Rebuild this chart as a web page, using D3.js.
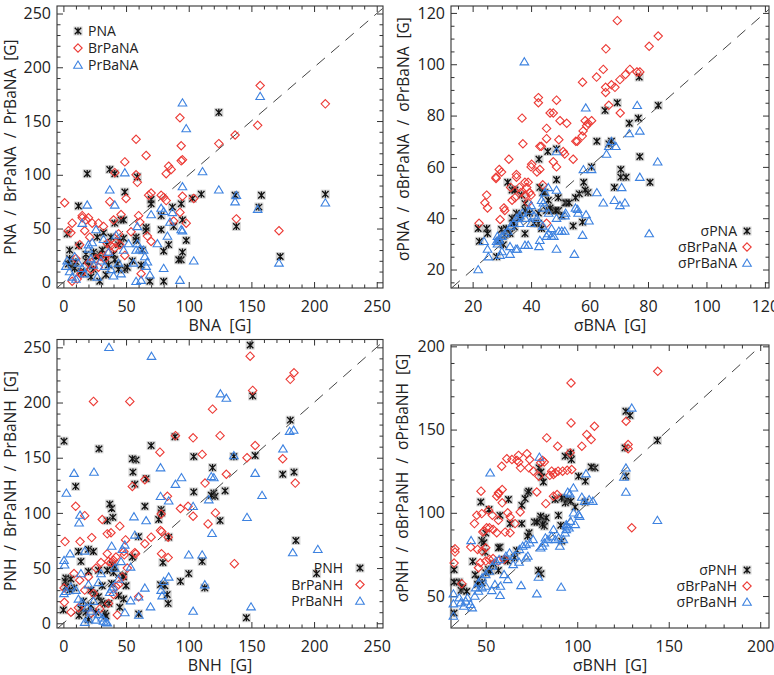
<!DOCTYPE html>
<html><head><meta charset="utf-8">
<script src="https://cdn.jsdelivr.net/npm/d3@7"></script>
<style>
body{margin:0;background:#fff}
svg text{font-family:"Open Sans",sans-serif;fill:#222}
</style></head><body>
<svg id="c" width="774" height="675"></svg>
<script>
// ---------- DATA ----------
const ticksP1 = [0, 50, 100, 150, 200, 250];
const ticksP2 = [20, 40, 60, 80, 100, 120];
const ticksP3 = [0, 50, 100, 150, 200, 250];
const ticksP4 = [50, 100, 150, 200];

const legendP1 = ["PNA", "BrPaNA", "PrBaNA"];
const legendP2 = ["σPNA", "σBrPaNA", "σPrBaNA"];
const legendP3 = ["PNH", "BrPaNH", "PrBaNH"];
const legendP4 = ["σPNH", "σBrPaNH", "σPrBaNH"];

// Panel 1: BNA vs PNA / BrPaNA / PrBaNA
const pna = [[124,158],[37,105],[41,101],[19,101],[59,98],[49,84],[12,71],[70,77],[70,73],[110,82],[137,81],[158,81],[209,82],[103,78],[94,73],[87,70],[78,62],[78,49],[88,52],[138,52],[95,58],[98,39],[80,29],[84,35],[95,28],[94,21],[92,21],[80,1],[69,1],[66,51],[66,48],[58,42],[58,39],[46,58],[48,58],[41,55],[48,41],[44,35],[35,35],[32,46],[27,42],[3,45],[5,30],[12,34],[29,1],[34,7],[43,17],[44,12],[49,12],[51,14],[41,21],[173,24],[156,70],[5,22],[7,15],[10,19],[18,20],[21,15],[24,12],[16,8],[22,5],[14,10],[29,26],[34,22],[36,16],[18,26],[9,13],[4,17],[26,24],[40,26],[45,38],[63,30],[62,16],[55,20],[31,30],[38,42],[24,28]];
const brpana = [[157,183],[209,166],[155,146],[137,137],[124,129],[93,153],[94,127],[95,114],[94,113],[58,133],[66,118],[49,112],[41,102],[84,108],[82,101],[86,105],[58,100],[59,93],[50,78],[37,75],[70,83],[68,81],[78,81],[80,79],[82,76],[95,80],[104,78],[98,55],[88,57],[93,65],[138,59],[172,48],[1,74],[4,48],[6,46],[7,55],[15,62],[15,60],[18,58],[20,60],[23,55],[28,55],[32,52],[17,48],[21,42],[46,63],[40,58],[44,45],[38,34],[41,32],[42,37],[61,56],[60,62],[67,43],[70,38],[62,8],[49,25],[7,1],[11,3],[13,35],[20,18],[26,22],[30,24],[33,22],[36,27],[14,8],[22,12],[45,35],[28,14],[10,22],[54,47],[35,36]];
const prbana = [[95,167],[98,143],[157,173],[111,103],[124,86],[137,75],[138,81],[155,68],[209,74],[172,18],[95,89],[95,48],[94,49],[49,102],[37,86],[41,72],[19,72],[59,52],[70,63],[78,69],[80,66],[87,65],[83,43],[85,56],[80,13],[104,20],[93,2],[58,1],[62,2],[69,7],[66,15],[67,19],[59,36],[61,31],[64,30],[26,49],[15,55],[2,15],[20,35],[20,31],[9,24],[5,10],[7,5],[10,3],[12,18],[15,13],[17,8],[22,22],[24,16],[27,5],[30,20],[33,15],[36,28],[38,12],[40,6],[44,18],[46,8],[48,30],[52,36],[56,18],[58,30],[65,24],[32,40],[23,37],[3,20],[42,44],[75,36]];

// Panel 2: sigma BNA
const spna = [[83.5,84],[77,95],[69.5,85],[65.3,82],[76.7,79],[73.6,77],[77.2,64],[80.7,54],[67.5,70],[66.6,69],[62.5,70],[70.7,59],[70.7,56],[72.5,56],[68.5,52],[60.7,60],[58,54],[59.5,50],[58.5,51],[56.5,49.5],[55.2,48],[54.4,37],[57.6,38.5],[51.6,46],[49.3,48],[48.7,55],[48.7,67],[45.7,66],[42.7,63],[43,52],[44.7,50],[45.9,47],[42.5,42],[42.5,38],[43.6,36],[37.9,34],[34.3,36.6],[32,54],[33.5,51],[34.5,51],[36.8,49],[37.9,45.7],[45.3,43],[47,43],[48.2,43],[49.4,43],[21.9,36],[22.3,31],[24.8,36],[25.1,34],[28.2,25],[30.5,29.7],[30.8,33.4],[29.9,35.6],[32.8,34],[33.5,40],[35,42],[36.5,41],[38,43],[39.5,42],[41,38],[44,50],[50.5,41],[52,46],[53,46],[48.5,43],[46.5,44],[31.5,36],[29,31],[34,38],[36,40]];
const sbrpana = [[69.5,117],[83.5,111],[80.4,107],[65.6,106],[64.7,98],[62.4,95],[57.6,93],[67.5,92],[68.7,91],[65.5,91],[65.5,89],[70.4,94],[72.3,96],[73.8,98],[76.2,97],[77.2,97],[66.6,84],[70.5,81],[60.7,78],[59,76],[58.5,78],[59.5,77],[57.8,74],[57.5,72],[55.3,70],[55.8,70],[54.4,63],[48.7,60],[47.6,62],[51,66],[51.5,65],[49.5,70.6],[46.5,81],[47.6,81],[48.7,86],[42.5,87],[42.5,85],[49.9,78],[52.2,77],[45.3,75],[36.9,79],[37.2,69],[45.3,71],[43,68],[43.5,68],[32.4,63],[29.1,59],[29.9,58],[28,56],[28,55.5],[40.2,61],[43,59],[37.9,54],[39,54],[38.5,52],[39.5,50],[38,49],[40,49],[35,56],[35,57],[36.5,50],[34.5,48],[33.5,47],[24.2,46],[25.1,44],[24.8,49],[22.2,38],[30.7,44],[31,43],[45.3,38],[29.4,39.5],[42,58],[36,52],[33,52],[40,60],[44,53],[39,46]];
const sprbana = [[37.7,101],[58.7,83],[76.3,84],[77.2,74],[73.6,73],[83.3,62],[77.2,56],[80.4,34],[71,52],[72.1,46],[70.4,45],[68.5,47],[64.7,46],[62.5,50],[60.7,59],[65.8,65],[69,68],[66.6,68],[67.5,70],[57.9,59],[55.2,44],[55.9,43.5],[56.1,42],[58.8,41.4],[59.8,39],[57.6,33.4],[54.8,26],[48.7,28],[48.7,40],[51.6,41],[51.8,42],[50.5,35],[49.5,35],[51.5,35],[45.9,34],[47,33],[47.8,33],[45.3,33],[42.7,29],[43,31.4],[37.9,29.5],[39,29.5],[32.8,29],[34.8,28],[35.3,28],[29.4,25.6],[30,27],[32.8,26],[25.4,25],[25.1,28],[21.9,20],[23.9,31],[28.2,31],[29,31.5],[28.5,33],[48.7,66],[48.7,51],[45.9,52],[44.7,50],[44.2,46],[43.6,47],[40,45],[39.5,43],[41,41],[42,40],[37,42],[36,41],[35,40],[34,38],[33,37],[32,35],[31,34],[30,33],[29,32],[28.5,30],[36,38],[38,40],[44,44],[46,42],[40,38],[47,36],[44,37]];

// Panel 3: BNH
const pnh = [[149,252],[151,206],[181,184],[184,137],[175,135],[153,152],[136,151],[129,120],[125,93],[119,141],[120,118],[121,115],[118,116],[104,151],[104,119],[89,169],[70,161],[66,131],[58,148],[55,149],[55.5,137],[57,126],[38.5,104],[37,108],[39.5,96],[35,93],[28.4,158],[0.5,165],[9.8,124],[12,65],[20,67],[24,65],[2,41],[1.5,38],[2,33],[6,40],[8.5,32],[0,12],[12.5,7],[20,3],[14,13],[16,20],[18,10],[22,16],[25,27],[28,24],[30,20],[26,10],[41,51],[47.5,43],[48,42],[39,53],[40,46],[38.5,36],[36.4,18],[33,17.5],[33,9],[34,6.6],[45,14.5],[50,34],[48,22],[60,8.5],[60,78.5],[55,60],[65,106],[76,94],[78,103],[78.3,100],[79.4,55],[77.5,35],[81,34],[82.8,26],[83.6,18],[93.4,38],[100,45],[110.7,56],[112.8,32],[146,5],[185.5,75],[202,45],[84,78],[14,56],[31,34],[35,48],[44,25],[20,47],[28,48],[22,30],[5,30]];
const brpanh = [[149,242],[184,227],[181,221],[151,211],[24,201],[53,201],[119,194],[125,170],[103.5,168],[89.4,170],[175,149],[153,161],[146.5,150],[77,155],[110.7,153],[130,135],[185,127],[113,127],[65,130],[55,124],[83,115],[93.4,104],[99.5,106],[103.5,97],[121.3,100],[115.4,90],[78,99],[77.5,84],[78.5,83],[83.6,78],[70,78],[65,72],[57.6,63],[57,64],[136.4,54],[83.6,59.5],[78.3,63],[1.3,74],[9.8,106],[17,97.5],[13.3,74],[22.6,77.6],[31,94],[35,81],[38,82],[45,88],[49.6,75.5],[48.3,65],[48.6,62],[8.5,45],[13,39],[20,42],[0.5,32],[0.8,19],[36,56],[38,55],[40,57],[42,60],[35,63],[60,24],[43,7.5],[36,18],[40,26],[42,33],[24,27],[17,30],[12,14],[6,10],[22,9],[29,13],[47,42],[51,50],[44,35],[30,55],[26,50]];
const prbanh = [[36.4,250],[70.3,242],[125.3,208],[130,204],[183.7,175],[180.5,174],[175.2,158],[136,152],[153,136],[158.5,116],[146.5,96],[24.4,137],[8.5,136],[2.4,118],[13.3,98],[12.5,91],[77.5,141],[89.4,126],[94.2,132],[77.5,115],[84,111],[103.5,106],[118,133],[120,132],[116,112],[118.6,81.5],[56.3,96.6],[66,93],[57,80],[38.5,70],[17,65.5],[5.3,63],[0.5,57],[1,53],[49,71],[47,67],[53.6,51],[110.7,62],[100,62],[183,64],[203,67],[112.8,35],[84,42],[80,38],[78,30],[78.8,25],[69.5,15],[60.2,7.5],[103.5,11],[149.7,15],[65,32],[53.6,20.5],[49,9.7],[38.5,31],[37,28],[39.5,33],[32,2],[34,1],[35,0.5],[31,5],[28,8],[17,1],[20,4],[26,3],[0.5,27],[2,29],[6,33],[10,30],[12,22],[15,19],[19,14],[22,11],[24,20],[14,45],[20,35],[28,37],[44,40],[41,50],[30,45],[60,24],[46,56]];

// Panel 4: sigma BNH
const spnh = [[143.8,143.5],[126.6,161],[128.8,158.5],[126.1,139],[126.6,122],[109.7,127],[107.6,127.5],[104.4,119],[100.7,122],[98.8,103.5],[104.3,106.5],[96.4,136],[96.8,132],[93.4,134],[92.8,108.5],[93.5,106],[91.5,109],[94.5,108],[96.5,107],[91,92.5],[91.5,83],[89.7,98.5],[87.9,108],[79.1,127],[80.2,124.5],[80.6,121.5],[81.5,118.5],[80,96],[82,95],[83,97],[82,92],[81,93],[80,98],[76.6,94.5],[78,94.4],[80.2,63.4],[78.8,65.4],[72.9,112],[73.5,113],[71.5,108.5],[69.7,104.5],[73.7,88],[72.9,86],[69.7,93.5],[63.3,93.5],[62.4,108],[57.8,98.5],[57.8,79.4],[57,79],[51.8,102],[50,87.8],[49.6,76.4],[47.8,83.4],[49,82],[47.3,106.5],[42.9,70.8],[44.2,62.8],[35.4,58.4],[36.5,53.4],[37.5,55],[32.7,65.8],[32.7,58.4],[32.7,39.8],[39.6,52.8],[50,64],[51.5,66],[52.5,65],[54.2,69.4],[56.9,65.4],[65.7,73],[66.9,77.4],[60,72],[62,71],[46,60],[48,58],[45.5,57]];
const sbrpanh = [[144,185],[96.6,178],[96.6,154],[109.4,152],[105.2,147],[126.7,155],[127.8,141],[127.8,138.5],[107.6,144],[102.5,140],[83.3,145],[89.3,140],[129.8,91],[96.1,136],[97,126],[94.5,125.5],[92,125],[89.5,125],[87,123],[85,122.5],[86,125],[88,124],[80,130],[82,130.5],[81,131.5],[72.5,135.5],[74,132],[73.5,127],[69,127],[76,125],[79,122],[67.9,134.5],[67,131.5],[68,130.5],[64.3,132],[61.5,132.5],[58.7,128],[47.4,113],[57,112],[59,114],[56,110],[57,111.5],[51.5,101.5],[45.1,98.5],[47.8,99.5],[43.8,93.5],[48.4,88.4],[49,89],[50.5,91],[52,91],[54,90],[56,88],[53.6,98.5],[56.9,95.5],[63.3,97.5],[60.6,88.4],[63.3,88],[66,93.5],[68.8,100.5],[45.5,78],[48,77],[50,79],[41.8,79.4],[33.2,78.4],[33.2,76.4],[32.7,69.8],[36.9,57.4],[47,70],[46,67],[50,71],[52,72],[54,72.5],[57,71],[60,72],[77.9,112.5],[87,110],[89,111],[82.8,105.5],[62,100],[59,106]];
const sprbanh = [[129.8,163],[126.6,127],[125.5,121.5],[126.6,112.5],[143.8,95.5],[79.3,133.5],[52.4,124],[97.9,115],[94.8,112.5],[96,111.5],[104.8,123.5],[102.5,109.5],[106.5,108],[108.5,107],[104,107],[98,100],[100.7,99],[101.3,98],[98.9,93],[96.3,95],[94,93],[94,90],[95.5,91],[91.2,55.4],[90.5,80],[92.4,84],[93.3,88],[94.2,92],[88,84],[89.8,85],[87,90],[86,86],[84,84],[82.6,85],[82,82],[81,80],[80,79],[78.8,61.4],[77.9,51.4],[69.3,56.4],[57.8,50.4],[53.3,53.4],[42,83.4],[32.3,51.4],[32.3,45.4],[32.3,38],[35.5,49],[36.3,46],[39,47],[41.7,45],[42.6,43],[44.5,55],[46,58],[48,61],[50,63],[51.8,65],[53.6,68],[55.5,71],[57.3,72],[61,74],[63,76],[65.7,74],[68.4,78],[70.2,80],[72,81],[74,82],[75.9,84],[68.2,70.4],[72,73],[73,74],[60,63],[62,60],[58,56],[55,57],[48,55],[46,53],[44,50],[40,49],[38,44],[50,56],[65,69]];

// ---------- STYLE / LAYOUT ----------
const RED = "#ec3a35", BLUE = "#3d82e0", BLACK = "#111";
const svg = d3.select("#c");

const panels = [
  {l:57, r:383, t:6, b:288, xd:[-5.1,255], yd:[-5.3,257], ticks:ticksP1, minor:10,
   data:[pna, brpana, prbana], xlabel:"BNA  [G]", ylabel:"PNA  /  BrPaNA  /  PrBaNA  [G]",
   ylx:15.5, ylc:147, legend:legendP1, lg:{mode:"left", sx:78, tx:88, y0:31, dy:17}},
  {l:451, r:769, t:6, b:288, xd:[12.6,121.4], yd:[12.8,122.7], ticks:ticksP2, minor:5,
   data:[spna, sbrpana, sprbana], xlabel:"σBNA  [G]", ylabel:"σPNA  /  σBrPaNA  /  σPrBaNA  [G]",
   ylx:409, ylc:139, legend:legendP2, lg:{mode:"right", sx:747, tx:737, y0:231, dy:16}},
  {l:57, r:383, t:339.5, b:628, xd:[-5.1,255], yd:[-4.3,257.1], ticks:ticksP3, minor:10,
   data:[pnh, brpanh, prbanh], xlabel:"BNH  [G]", ylabel:"PNH  /  BrPaNH  /  PrBaNH  [G]",
   ylx:15.5, ylc:481, legend:legendP3, lg:{mode:"right", sx:360, tx:343, y0:568, dy:16.5}},
  {l:451, r:769, t:345, b:628, xd:[31,204.8], yd:[30.8,200.8], ticks:ticksP4, minor:10,
   data:[spnh, sbrpanh, sprbanh], xlabel:"σBNH  [G]", ylabel:"σPNH  /  σBrPaNH  /  σPrBaNH  [G]",
   ylx:408, ylc:478, legend:legendP4, lg:{mode:"right", sx:747, tx:737, y0:570, dy:16}}
];

const shapes = {
  ast: "M0,-3.6V3.6M-3.2,-3.2L3.2,3.2M-3.2,3.2L3.2,-3.2",
  dia: "M0,-4.2L4.2,0L0,4.2L-4.2,0Z",
  tri: "M0,-4L4.3,3.2L-4.3,3.2Z"
};
const styles = [
  {shape:"ast", color:BLACK},
  {shape:"dia", color:RED},
  {shape:"tri", color:BLUE}
];

function marker(g, k, x, y) {
  const s = styles[k];
  if (s.shape === "ast") {
    g.append("rect").attr("x", x-4.5).attr("y", y-4.5).attr("width", 9).attr("height", 9)
      .attr("fill", "#888").attr("opacity", 0.35);
  }
  g.append("path").attr("d", shapes[s.shape]).attr("transform", `translate(${x},${y})`)
    .attr("fill", "none").attr("stroke", s.color).attr("stroke-width", s.shape === "ast" ? 1.3 : 1.1);
}

panels.forEach((p, i) => {
  const g = svg.append("g");
  const x = d3.scaleLinear().domain(p.xd).range([p.l, p.r]);
  const y = d3.scaleLinear().domain(p.yd).range([p.b, p.t]);
  const minorX = d3.range(Math.ceil(p.xd[0]/p.minor)*p.minor, p.xd[1], p.minor).filter(v => !p.ticks.includes(v));
  const minorY = d3.range(Math.ceil(p.yd[0]/p.minor)*p.minor, p.yd[1], p.minor).filter(v => !p.ticks.includes(v));

  const axes = [
    [d3.axisBottom, x, `translate(0,${p.b})`, true, minorX, "x"],
    [d3.axisTop, x, `translate(0,${p.t})`, false, minorX, "x"],
    [d3.axisLeft, y, `translate(${p.l},0)`, true, minorY, "y"],
    [d3.axisRight, y, `translate(${p.r},0)`, false, minorY, "y"]
  ];
  axes.forEach(([mk, sc, tr, lab, mn, dir]) => {
    const a = g.append("g").attr("transform", tr).style("color", "#333")
      .call(mk(sc).tickValues(p.ticks).tickSize(-6).tickPadding(lab ? (dir === "x" ? 13 : 6) : 0)
        .tickFormat(lab ? d3.format("d") : ""));
    a.select(".domain").remove();
    a.selectAll("text").attr("font-size", 16).attr("font-family", "Open Sans").style("fill", "#222");
    const m = g.append("g").attr("transform", tr).style("color", "#333")
      .call(mk(sc).tickValues(mn).tickSize(-3.5).tickFormat(""));
    m.select(".domain").remove();
  });

  // frame
  g.append("rect").attr("x", p.l).attr("y", p.t).attr("width", p.r - p.l).attr("height", p.b - p.t)
    .attr("fill", "none").attr("stroke", "#333").attr("stroke-width", 1.1);

  // 1:1 dashed line
  const lo = Math.max(p.xd[0], p.yd[0]), hi = Math.min(p.xd[1], p.yd[1]);
  g.append("line").attr("x1", x(lo)).attr("y1", y(lo)).attr("x2", x(hi)).attr("y2", y(hi))
    .attr("stroke", "#444").attr("stroke-width", 1).attr("stroke-dasharray", "11,8");

  // points
  p.data.forEach((arr, k) => {
    const gg = g.append("g");
    arr.forEach(d => marker(gg, k, x(d[0]), y(d[1])));
  });

  // axis titles
  g.append("text").attr("x", (p.l + p.r)/2).attr("y", p.b + 43).attr("text-anchor", "middle")
    .attr("font-size", 16).style("white-space", "pre").text(p.xlabel);
  g.append("text").attr("transform", `translate(${p.ylx},${p.ylc}) rotate(-90)`).attr("text-anchor", "middle")
    .attr("font-size", 15.5).style("white-space", "pre").text(p.ylabel);

  // legend
  p.legend.forEach((name, k) => {
    const ly = p.lg.y0 + k * p.lg.dy;
    marker(g, k, p.lg.sx, ly);
    g.append("text").attr("x", p.lg.tx).attr("y", ly + 5).attr("font-size", 14)
      .attr("text-anchor", p.lg.mode === "left" ? "start" : "end").text(name);
  });
});
</script>
</body></html>
